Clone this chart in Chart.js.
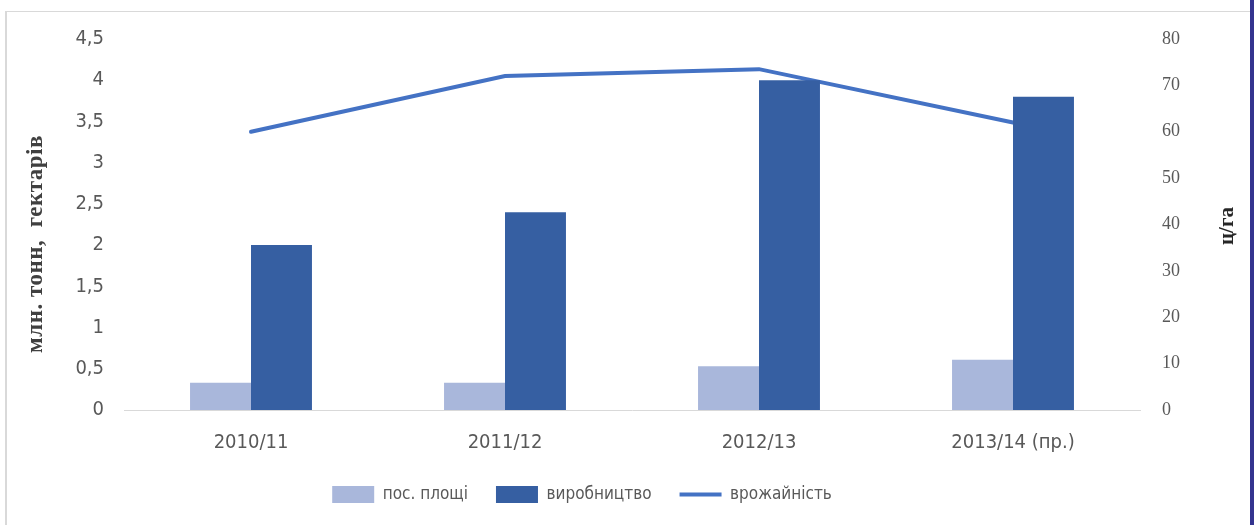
<!DOCTYPE html>
<html lang="uk">
<head>
<meta charset="UTF-8">
<title>Виробництво</title>
<script src="https://cdn.jsdelivr.net/npm/chart.js@4.4.1/dist/chart.umd.min.js"></script>
<style>
    body { margin: 0; background: #fff; }
    #wrap { position: relative; width: 1254px; height: 525px; }
    #frameLeft { position: absolute; left: 5px; top: 11px; width: 2px; height: 514px; background: #d9d9d9; }
    #frameTop { position: absolute; left: 5px; top: 11px; width: 1245px; height: 1px; background: #d9d9d9; }
    #frameRight { position: absolute; left: 1250px; top: 0; width: 4px; height: 525px; background: #34348f; }
    canvas { position: absolute; left: 0; top: 0; }
</style>
</head>
<body>
<div id="wrap">
    <canvas id="myChart" width="1254" height="525"></canvas>
    <div id="frameLeft"></div>
    <div id="frameTop"></div>
    <div id="frameRight"></div>
</div>
<script>
    // data
    var years = ['2010/11', '2011/12', '2012/13', '2013/14 (пр.)'];
    var area = [0.33, 0.33, 0.53, 0.61];          // пос. площі, млн. гектарів
    var production = [2.0, 2.4, 4.0, 3.8];        // виробництво, млн. тонн
    var yieldPerHa = [60, 72, 73.5, 62];          // врожайність, ц/га

    var leftTitle = 'млн. тонн,  гектарів';
    var rightTitle = 'ц/га';

    var sans = "'DejaVu Sans Condensed', 'Liberation Sans Narrow', 'Liberation Sans', sans-serif";
    var serif = "'Liberation Serif', serif";

    // both axis titles read bottom-to-top, so draw them by hand
    var axisTitles = {
        id: 'axisTitles',
        afterDraw: function (chart) {
            var ctx = chart.ctx;
            ctx.save();
            ctx.fillStyle = '#404040';
            ctx.font = 'bold 23px ' + serif;
            ctx.letterSpacing = '0.5px';
            ctx.textAlign = 'center';
            ctx.textBaseline = 'middle';
            ctx.translate(36, 244);
            ctx.rotate(-Math.PI / 2);
            ctx.fillText(leftTitle, 0, 0);
            ctx.restore();

            ctx.save();
            ctx.fillStyle = '#262626';
            ctx.font = 'bold 21px ' + serif;
            ctx.textAlign = 'center';
            ctx.textBaseline = 'middle';
            ctx.translate(1228, 226);
            ctx.rotate(-Math.PI / 2);
            ctx.fillText(rightTitle, 0, 0);
            ctx.restore();
        }
    };

    // the legend sits a bit left of centre in the original
    var legendShift = {
        id: 'legendShift',
        afterLayout: function (chart) {
            chart.legend.left -= 45;
            chart.legend.right -= 45;
        }
    };

    var ctx = document.getElementById('myChart').getContext('2d');
    var myChart = new Chart(ctx, {
        type: 'bar',
        data: {
            labels: years,
            datasets: [{
                label: 'пос. площі',
                data: area,
                backgroundColor: '#a9b7db',
                yAxisID: 'y',
                order: 0
            }, {
                label: 'виробництво',
                data: production,
                backgroundColor: '#365fa2',
                yAxisID: 'y',
                order: 0
            }, {
                type: 'line',
                label: 'врожайність',
                data: yieldPerHa,
                borderColor: '#4472c4',
                backgroundColor: '#4472c4',
                borderWidth: 4,
                borderCapStyle: 'round',
                pointRadius: 0,
                tension: 0,
                yAxisID: 'y1',
                order: 1
            }]
        },
        options: {
            responsive: false,
            animation: false,
            layout: { padding: { top: 39, left: 0, right: 0, bottom: 17 } },
            datasets: {
                bar: { categoryPercentage: 0.48, barPercentage: 1 }
            },
            plugins: {
                tooltip: { enabled: false },
                legend: {
                    position: 'bottom',
                    maxHeight: 50,
                    labels: {
                        usePointStyle: true,
                        boxHeight: 18,
                        pointStyleWidth: 42,
                        padding: 28,
                        color: '#595959',
                        font: { family: sans, size: 17 },
                        generateLabels: function (chart) {
                            var items = Chart.defaults.plugins.legend.labels.generateLabels(chart);
                            items.forEach(function (it) {
                                var ds = chart.data.datasets[it.datasetIndex];
                                it.pointStyle = ds.type === 'line' ? 'line' : 'rect';
                                if (ds.type === 'line') { it.lineWidth = 4; it.strokeStyle = '#4472c4'; }
                                else { it.lineWidth = 0; }
                            });
                            return items;
                        }
                    }
                }
            },
            scales: {
                x: {
                    grid: { display: false },
                    border: { display: true, color: '#d9d9d9', width: 1 },
                    ticks: { color: '#595959', font: { family: sans, size: 20 }, padding: 13, maxRotation: 0 },
                    afterFit: function (s) { s.height = 48; }
                },
                y: {
                    position: 'left',
                    min: 0, max: 4.5,
                    grid: { display: false, drawTicks: false },
                    border: { display: false },
                    ticks: {
                        stepSize: 0.5,
                        padding: 20,
                        color: '#595959',
                        font: { family: sans, size: 20 },
                        callback: function (v) { return String(v).replace('.', ','); }
                    },
                    afterFit: function (s) { s.width = 124; }
                },
                y1: {
                    position: 'right',
                    min: 0, max: 80,
                    grid: { display: false, drawTicks: false },
                    border: { display: false },
                    ticks: {
                        stepSize: 10,
                        padding: 22,
                        color: '#595959',
                        font: { family: serif, size: 18 }
                    },
                    afterFit: function (s) { s.width = 114; }
                }
            }
        },
        plugins: [axisTitles, legendShift]
    });
</script>
</body>
</html>
